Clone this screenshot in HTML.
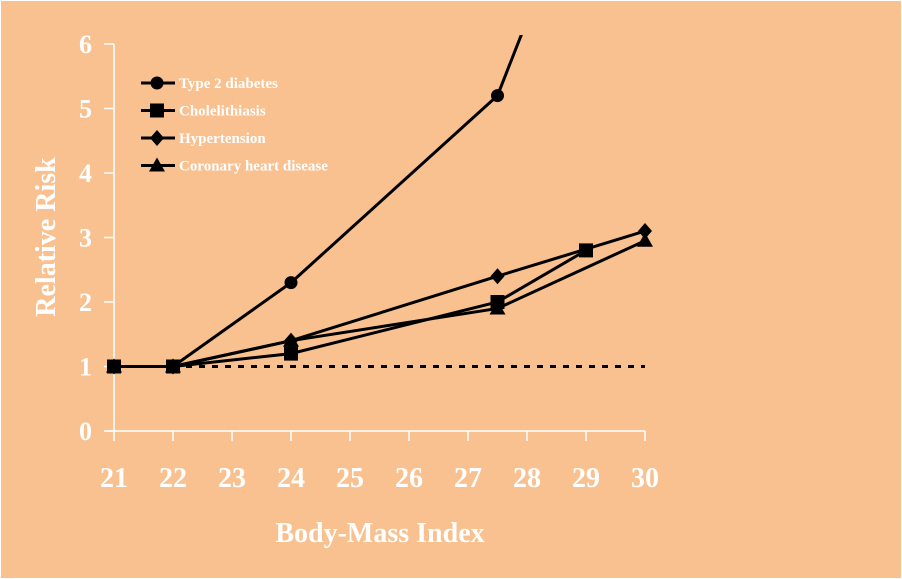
<!DOCTYPE html>
<html><head><meta charset="utf-8"><style>
html,body{margin:0;padding:0;background:#F9C190;}
svg{display:block;font-family:"Liberation Serif",serif;font-weight:bold;}
</style></head><body>
<svg width="902" height="579" viewBox="0 0 902 579">
<rect x="0" y="0" width="902" height="579" fill="#F9C190"/>
<rect x="0.5" y="0.5" width="901" height="578" fill="none" stroke="#ffffff" stroke-width="1"/>
<defs><clipPath id="pc"><rect x="100" y="35" width="600" height="410"/></clipPath></defs>
<g id="axes"></g>
<g id="series" clip-path="url(#pc)"></g>
<g id="legend"></g>
<text x="270" y="29" fill="none"></text>
<text x="380" y="542" font-size="28" fill="#fff" text-anchor="middle">Body-Mass Index</text>
<text transform="translate(55,237) rotate(-90)" font-size="28" fill="#fff" text-anchor="middle">Relative Risk</text>
</svg>
<script>
const xTicks=[21,22,23,24,25,26,27,28,29,30];
const yTicks=[0,1,2,3,4,5,6];
const seriesNames=["Type 2 diabetes","Cholelithiasis","Hypertension","Coronary heart disease"];
const diabetesX=[21,22,24,27.5,29];
const diabetesY=[1,1,2.3,5.2,8.7];
const cholX=[21,22,24,27.5,29];
const cholY=[1,1,1.2,2.0,2.8];
const hyperX=[21,22,24,27.5,30];
const hyperY=[1,1,1.4,2.4,3.1];
const chdX=[21,22,24,27.5,30];
const chdY=[1,1,1.4,1.9,2.95];
const refX=[22,30];
const refY=[1,1];

const NS="http://www.w3.org/2000/svg";
const sx=v=>114+(v-21)*59;
const sy=v=>431-v*64.5;
function mk(t,a,p){const e=document.createElementNS(NS,t);for(const k in a)e.setAttribute(k,a[k]);p.appendChild(e);return e;}
const ax=document.getElementById('axes'),sg=document.getElementById('series'),lg=document.getElementById('legend');

let e=mk('line',{x1:114,y1:sy(6),x2:114,y2:431,stroke:'#fff','stroke-width':1.5},ax);

e=mk('line',{x1:104,y1:431,x2:sx(30),y2:431,stroke:'#fff','stroke-width':1.5},ax);

yTicks.forEach(v=>{
 let t=mk('line',{x1:104,y1:sy(v),x2:114,y2:sy(v),stroke:'#fff','stroke-width':1.5},ax);
 
 let l=mk('text',{x:92,y:sy(v)+9,'font-size':26,fill:'#fff','text-anchor':'end'},ax);l.textContent=v;
 
});
xTicks.forEach(v=>{
 let t=mk('line',{x1:sx(v),y1:431,x2:sx(v),y2:441,stroke:'#fff','stroke-width':1.5},ax);
 
 let l=mk('text',{x:sx(v),y:487,'font-size':28,fill:'#fff','text-anchor':'middle'},ax);l.textContent=v;
 
});
e=mk('line',{x1:sx(refX[0]),y1:sy(refY[0]),x2:sx(refX[1]),y2:sy(refY[1]),stroke:'#000','stroke-width':3,'stroke-dasharray':'6,7'},sg);


function marker(kind,x,y,p){
 let m;
 if(kind==0)m=mk('circle',{cx:x,cy:y,r:6.5,fill:'#000'},p);
 else if(kind==1)m=mk('rect',{x:x-7,y:y-7,width:14,height:14,fill:'#000'},p);
 else if(kind==2)m=mk('polygon',{points:`${x},${y-8} ${x+7},${y} ${x},${y+8} ${x-7},${y}`,fill:'#000'},p);
 else m=mk('polygon',{points:`${x},${y-8} ${x+8},${y+6} ${x-8},${y+6}`,fill:'#000'},p);
 return m;
}
const all=[[diabetesX,diabetesY],[cholX,cholY],[hyperX,hyperY],[chdX,chdY]];
const slugs=['type-2-diabetes','cholelithiasis','hypertension','coronary-heart-disease'];
[3,2,1,0].forEach(i=>{
 const [xs,ys]=all[i];
 let pl=mk('polyline',{points:xs.map((x,j)=>sx(x)+','+sy(ys[j])).join(' '),fill:'none',stroke:'#000','stroke-width':3},sg);
 
 xs.forEach((x,j)=>{let m=marker(i,sx(x),sy(ys[j]),sg);
  });
});
seriesNames.forEach((n,i)=>{
 const y=83+i*27.5;
 let l=mk('line',{x1:141,y1:y,x2:175,y2:y,stroke:'#000','stroke-width':3},lg);
 
 let m=marker(i,157,y,lg);
 
 let t=mk('text',{x:179,y:y+5,'font-size':15,fill:'#fff'},lg);t.textContent=n;
 
});
</script>
</body></html>
